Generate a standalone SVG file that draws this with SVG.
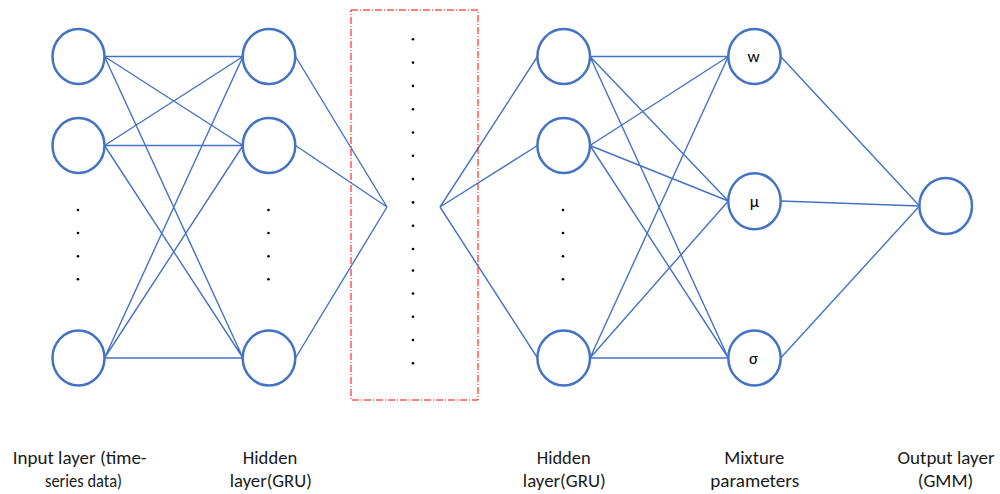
<svg xmlns="http://www.w3.org/2000/svg" width="1000" height="494" viewBox="0 0 1000 494">
<style>
.node{fill:#fff;stroke:#4472C4;stroke-width:2.5}
.edge{stroke:#4472C4;stroke-width:1.4;fill:none}
.dot{fill:#000}
.lbl{font-family:Carlito,Lato,"Liberation Sans",sans-serif;font-size:18px;fill:#1a1a1a;text-anchor:middle}
.sym{font-family:Carlito,Lato,"Liberation Sans",sans-serif;font-size:17px;fill:#000;text-anchor:middle}
</style>
<rect x="0" y="0" width="1000" height="494" fill="#fff"/>
<g id="connectors">
<path class="edge" d="M104.5,56.5L243,56.5M104.5,56.5L243,145.5M104.5,56.5L243,358M104.5,145.5L243,56.5M104.5,145.5L243,145.5M104.5,145.5L243,358M104.5,358L243,56.5M104.5,358L243,145.5M104.5,358L243,358"/>
<path class="edge" d="M295.5,56.5L387,207M295.5,145.5L387,207M295.5,358L387,207"/>
<path class="edge" d="M440,207L537.5,56.5M440,207L537.5,145.5M440,207L537.5,358"/>
<path class="edge" d="M590,56.5L728.3,56.5M590,56.5L728.3,201M590,56.5L728.3,358M590,145.5L728.3,56.5M590,145.5L728.3,201M590,145.5L728.3,358M590,358L728.3,56.5M590,358L728.3,201M590,358L728.3,358"/>
<path class="edge" d="M780.7,56.5L919.5,206M780.7,201L919.5,206M780.7,358L919.5,206"/>
</g>
<g id="ellipsis-box">
<rect x="351" y="10" width="127" height="390" fill="none" stroke="#FF0000" stroke-width="1" stroke-dasharray="7 2 1 2"/>
<g class="dot">
<circle cx="413" cy="39.3" r="1.3"/><circle cx="413" cy="62.6" r="1.3"/><circle cx="413" cy="85.9" r="1.3"/><circle cx="413" cy="109.2" r="1.3"/><circle cx="413" cy="132.5" r="1.3"/><circle cx="413" cy="155.8" r="1.3"/><circle cx="413" cy="179.1" r="1.3"/><circle cx="413" cy="202.4" r="1.3"/><circle cx="413" cy="225.7" r="1.3"/><circle cx="413" cy="249" r="1.3"/><circle cx="413" cy="270.5" r="1.3"/><circle cx="413" cy="293.5" r="1.3"/><circle cx="413" cy="316.7" r="1.3"/><circle cx="413" cy="340" r="1.3"/><circle cx="413" cy="363.3" r="1.3"/>
</g>
</g>
<g id="input1"><ellipse class="node" cx="78.5" cy="56.5" rx="26" ry="27.5"/></g>
<g id="input2"><ellipse class="node" cx="78.5" cy="145.5" rx="26" ry="27.5"/></g>
<g id="input3"><ellipse class="node" cx="78.5" cy="358" rx="26" ry="27.5"/></g>
<g id="input-dots" class="dot"><circle cx="78" cy="210" r="1.3"/><circle cx="78" cy="233" r="1.3"/><circle cx="78" cy="256.3" r="1.3"/><circle cx="78" cy="279.3" r="1.3"/></g>
<g id="hidden1"><ellipse class="node" cx="269" cy="56.5" rx="26.3" ry="27.5"/></g>
<g id="hidden2"><ellipse class="node" cx="269" cy="145.5" rx="26.3" ry="27.5"/></g>
<g id="hidden3"><ellipse class="node" cx="269" cy="358" rx="26.3" ry="27.5"/></g>
<g id="hidden-dots" class="dot"><circle cx="268.5" cy="210" r="1.3"/><circle cx="268.5" cy="233" r="1.3"/><circle cx="268.5" cy="256.3" r="1.3"/><circle cx="268.5" cy="279.3" r="1.3"/></g>
<g id="hiddenB1"><ellipse class="node" cx="563.7" cy="56.5" rx="26.3" ry="27.5"/></g>
<g id="hiddenB2"><ellipse class="node" cx="563.7" cy="145.5" rx="26.3" ry="27.5"/></g>
<g id="hiddenB3"><ellipse class="node" cx="563.7" cy="358" rx="26.3" ry="27.5"/></g>
<g id="hiddenB-dots" class="dot"><circle cx="563" cy="210" r="1.3"/><circle cx="563" cy="233" r="1.3"/><circle cx="563" cy="256.3" r="1.3"/><circle cx="563" cy="279.3" r="1.3"/></g>
<g id="mix-w"><ellipse class="node" cx="754.5" cy="56.5" rx="26.2" ry="27.5"/><text class="sym" x="753.5" y="62">w</text></g>
<g id="mix-mu"><ellipse class="node" cx="754.5" cy="201.3" rx="26.2" ry="28"/><text class="sym" x="754.5" y="207">μ</text></g>
<g id="mix-sigma"><ellipse class="node" cx="754.5" cy="358" rx="26.2" ry="27.5"/><text class="sym" x="753.5" y="364">σ</text></g>
<g id="output"><ellipse class="node" cx="945.7" cy="206" rx="26.3" ry="28"/></g>
<g id="labels">
<text class="lbl" x="79.7" y="464" textLength="134" lengthAdjust="spacingAndGlyphs">Input layer (time-</text>
<text class="lbl" x="83.5" y="487" textLength="77" lengthAdjust="spacingAndGlyphs">series data)</text>
<text class="lbl" x="270" y="464" textLength="54.5" lengthAdjust="spacingAndGlyphs">Hidden</text>
<text class="lbl" x="270.8" y="487" textLength="82" lengthAdjust="spacingAndGlyphs">layer(GRU)</text>
<text class="lbl" x="563.7" y="464" textLength="54" lengthAdjust="spacingAndGlyphs">Hidden</text>
<text class="lbl" x="564.3" y="487" textLength="83" lengthAdjust="spacingAndGlyphs">layer(GRU)</text>
<text class="lbl" x="754.3" y="464" textLength="60" lengthAdjust="spacingAndGlyphs">Mixture</text>
<text class="lbl" x="754.7" y="487" textLength="89" lengthAdjust="spacingAndGlyphs">parameters</text>
<text class="lbl" x="946" y="464" textLength="97" lengthAdjust="spacingAndGlyphs">Output layer</text>
<text class="lbl" x="945.5" y="487" textLength="55.5" lengthAdjust="spacingAndGlyphs">(GMM)</text>
</g>
</svg>
